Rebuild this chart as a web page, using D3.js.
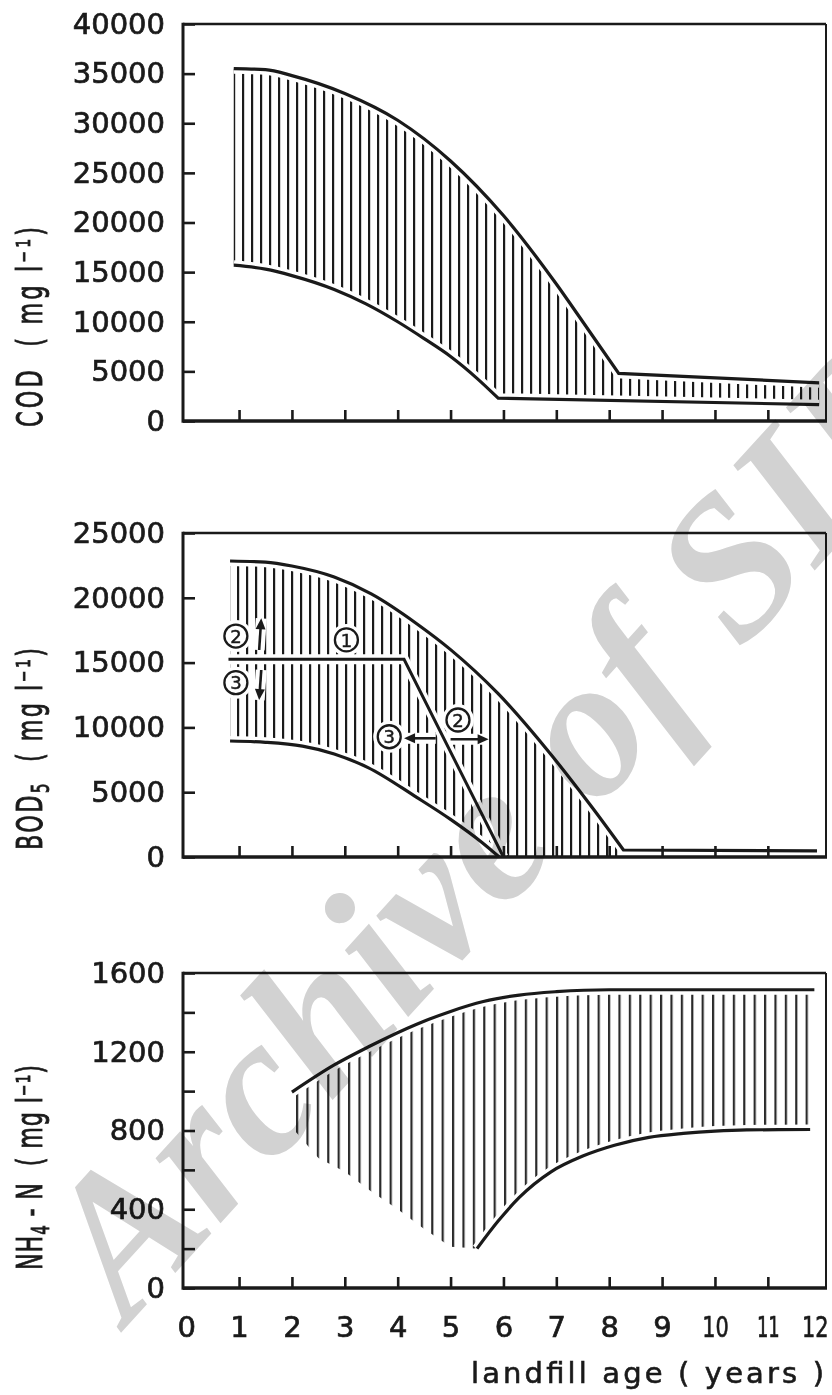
<!DOCTYPE html>
<html>
<head>
<meta charset="utf-8">
<script src="https://cdn.jsdelivr.net/npm/d3@7"></script>
<style>
  body { margin: 0; background: #fff; }
  svg { display: block; }
  text { font-family: 'DejaVu Sans', sans-serif; fill: #1a1a1a; white-space: pre; }
</style>
</head>
<body>
<svg id="chart" width="832" height="1395"></svg>
<script>
// landfill age (years)
const xLabels = [0, 1, 2, 3, 4, 5, 6, 7, 8, 9, 10, 11, 12]

// COD (mg/l)
const codTicks = [0, 5000, 10000, 15000, 20000, 25000, 30000, 35000, 40000]
const codUpper = [[0.9, 35500], [1.5, 35400], [2, 34800], [3, 33000], [4, 30300], [5, 26200],
  [6, 20700], [7, 13800], [7.5, 10000], [8.18, 4800]]
const codUpperTail = [[8.18, 4800], [11.97, 3850]]
const codLower = [[0.9, 15700], [1.5, 15300], [2, 14650], [2.8, 13250], [3.4, 11800], [4, 10000],
  [4.5, 8300], [5, 6500], [5.5, 4300], [5.9, 2300]]
const codLowerTail = [[5.9, 2300], [11.97, 1650]]

// BOD5 (mg/l)
const bodTicks = [0, 5000, 10000, 15000, 20000, 25000]
const bodUpper = [[0.83, 22840], [1.5, 22750], [2, 22450], [2.8, 21600], [3.5, 20300], [4.36, 18000],
  [5, 16000], [5.9, 12600], [6.86, 8100], [7.7, 3700], [8.27, 540]]
const bodUpperTail = [[8.27, 540], [11.93, 480]]
const bodLower = [[0.83, 8950], [1.5, 8850], [2.2, 8550], [2.8, 7950], [3.44, 6900], [4.36, 4600],
  [5, 2900], [5.6, 1100], [5.92, 0]]
const bodFloor = [[5.92, 0], [8.27, 0]]
const bodLine1 = [[0.8, 15250], [4.12, 15250], [6.0, 0]]
const bodCircleLabels = ['2', '1', '3', '3', '2']
const bodCircleAt = [[0.94, 17050], [3.03, 16750], [0.94, 13450], [3.84, 9280], [5.14, 10570]]
// arrows: from -> to (head at "to")
const bodArrows = [[[1.38, 15970], [1.42, 18420]], [[1.42, 14430], [1.38, 12110]],
  [[4.72, 9160], [4.12, 9160]], [[5.0, 9080], [5.72, 9080]]]

// NH4-N (mg/l)
const nh4Ticks = [0, 200, 400, 600, 800, 1000, 1200, 1400, 1600]
const nh4Upper = [[2.0, 995], [2.8, 1133], [3.44, 1224], [4.36, 1340], [5, 1405], [5.62, 1455],
  [6.3, 1488], [7, 1505], [8.0, 1515], [11.88, 1515]]
const nh4Lower = [[5.5, 200], [5.9, 340], [6.3, 460], [6.9, 590], [7.5, 670], [8.1, 725],
  [8.75, 765], [9.4, 785], [10, 797], [10.6, 803], [11.8, 805]]
// hatching stops here, no line drawn
const nh4HatchEdge = [[2.05, 800], [2.5, 660], [3, 590], [3.5, 490], [4, 400], [4.5, 300], [5, 210], [5.3, 205], [5.5, 200]]

const ink = '#1a1a1a'
const svg = d3.select('#chart')
const defs = svg.append('defs')

const xScale = d3.scaleLinear().domain([-0.06, 12.1]).range([183, 826])
const yCod = d3.scaleLinear().domain([0, 40000]).range([421, 24])
const yBod = d3.scaleLinear().domain([0, 25000]).range([857, 533])
const yNh4 = d3.scaleLinear().domain([0, 1600]).range([1288, 973])

const smooth = d3.curveMonotoneX
const straight = d3.curveLinear

function seg(y, pts, curve) {
  return d3.line().x(d => xScale(d[0])).y(d => y(d[1])).curve(curve)(pts)
}
function chain(parts) {
  return parts.map((p, i) => i ? p.replace(/^M/, 'L') : p).join('')
}
function rev(a) { return a.slice().reverse() }

function hatchPattern(id, step, x0, color) {
  const p = defs.append('pattern').attr('id', id).attr('patternUnits', 'userSpaceOnUse')
    .attr('x', x0).attr('y', 0).attr('width', step).attr('height', 10)
  p.append('rect').attr('x', 0).attr('y', 0).attr('width', 2.2).attr('height', 10).attr('fill', color)
}
hatchPattern('hCod', 9.0, 233, ink)
hatchPattern('hBod', 9.0, 228, ink)
hatchPattern('hNh4', 10.4, 296, '#2a2a2a')

const layer = svg.append('g')
const hatchG = layer.append('g')
const haloG = layer.append('g')
const lineG = layer.append('g')
const noteG = layer.append('g')
const axisG = layer.append('g')

function hatch(d, id) {
  hatchG.append('path').attr('d', d).attr('fill', `url(#${id})`)
}
function boundary(d, w) {
  haloG.append('path').attr('d', d).attr('fill', 'none').attr('stroke', '#fff').attr('stroke-width', 10)
  lineG.append('path').attr('d', d).attr('fill', 'none').attr('stroke', ink).attr('stroke-width', w || 3.2)
}

// ---- COD ----
hatch(chain([seg(yCod, codUpper, smooth), seg(yCod, codUpperTail, straight),
  seg(yCod, rev(codLowerTail), straight), seg(yCod, rev(codLower), smooth)]) + 'Z', 'hCod')
boundary(chain([seg(yCod, codUpper, smooth), seg(yCod, codUpperTail, straight)]))
boundary(chain([seg(yCod, codLower, smooth), seg(yCod, codLowerTail, straight)]))

// ---- BOD5 ----
hatch(chain([seg(yBod, bodUpper, smooth), seg(yBod, rev(bodFloor), straight),
  seg(yBod, rev(bodLower), smooth)]) + 'Z', 'hBod')
boundary(chain([seg(yBod, bodUpper, smooth), seg(yBod, bodUpperTail, straight)]))
boundary(seg(yBod, bodLower, smooth))
boundary(seg(yBod, bodLine1, straight), 3)

bodArrows.forEach(([a, b]) => {
  const x0 = xScale(a[0]), y0 = yBod(a[1]), x1 = xScale(b[0]), y1 = yBod(b[1])
  const ang = Math.atan2(y1 - y0, x1 - x0)
  haloG.append('line').attr('x1', x0).attr('y1', y0).attr('x2', x1).attr('y2', y1)
    .attr('stroke', '#fff').attr('stroke-width', 11)
  noteG.append('line').attr('x1', x0).attr('y1', y0)
    .attr('x2', x1 - 6 * Math.cos(ang)).attr('y2', y1 - 6 * Math.sin(ang))
    .attr('stroke', ink).attr('stroke-width', 2.6)
  const L = 11, W = 5
  const bx = x1 - L * Math.cos(ang), by = y1 - L * Math.sin(ang)
  const px = -Math.sin(ang) * W, py = Math.cos(ang) * W
  noteG.append('path').attr('d', `M${x1},${y1}L${bx + px},${by + py}L${bx - px},${by - py}Z`).attr('fill', ink)
})

bodCircleAt.forEach((c, i) => {
  const cx = xScale(c[0]), cy = yBod(c[1])
  haloG.append('circle').attr('cx', cx).attr('cy', cy).attr('r', 16).attr('fill', '#fff')
  noteG.append('circle').attr('cx', cx).attr('cy', cy).attr('r', 11.5)
    .attr('fill', '#fff').attr('stroke', ink).attr('stroke-width', 2.3)
  noteG.append('text').attr('x', cx).attr('y', cy).attr('dy', '0.37em').attr('text-anchor', 'middle')
    .attr('font-size', 18).attr('stroke', ink).attr('stroke-width', 0.5).text(bodCircleLabels[i])
})

// ---- NH4-N ----
hatch(chain([seg(yNh4, nh4Upper, smooth), seg(yNh4, rev(nh4Lower), smooth),
  seg(yNh4, rev(nh4HatchEdge), straight)]) + 'Z', 'hNh4')
boundary(seg(yNh4, nh4Upper, smooth))
boundary(seg(yNh4, nh4Lower, smooth))

// ---- frames and axes ----
const panels = [
  { y: yCod, ticks: codTicks, fmt: d => d, xText: false },
  { y: yBod, ticks: bodTicks, fmt: d => d, xText: false },
  { y: yNh4, ticks: nh4Ticks, fmt: d => d % 400 === 0 ? d : '', xText: true },
]
const [xl, xr] = xScale.range()
panels.forEach(p => {
  const [yb, yt] = p.y.range()
  const g = axisG.append('g')

  const ya = g.append('g').attr('transform', `translate(${xl},0)`)
    .call(d3.axisLeft(p.y).tickValues(p.ticks).tickSize(-12).tickPadding(18).tickFormat(p.fmt))
  ya.select('.domain').remove()
  ya.selectAll('.tick line').attr('stroke', ink).attr('stroke-width', 2.6)
  ya.selectAll('.tick text').attr('font-size', 29).attr('fill', ink)
    .attr('stroke', ink).attr('stroke-width', 0.7)

  const xa = g.append('g').attr('transform', `translate(0,${yb})`)
    .call(d3.axisBottom(xScale).tickValues(xLabels).tickSize(-11).tickPadding(28)
      .tickFormat(p.xText ? d => d : ''))
  xa.select('.domain').remove()
  xa.selectAll('.tick line').attr('stroke', ink).attr('stroke-width', 2.6)
    .attr('display', d => (d === 0 || d === 12) ? 'none' : null)
  xa.selectAll('.tick text').attr('font-size', 29).attr('fill', ink)
    .attr('stroke', ink).attr('stroke-width', 0.7)
    // two-digit labels are narrow in the original lettering
    .filter(d => d >= 10)
    .attr('transform', d => `translate(${d === 12 ? -6 : 0},0) scale(${d === 11 ? 0.62 : 0.72},1)`)

  g.append('line').attr('x1', xl).attr('x2', xr).attr('y1', yt).attr('y2', yt).attr('stroke', ink).attr('stroke-width', 2.4)
  g.append('line').attr('x1', xr).attr('x2', xr).attr('y1', yt).attr('y2', yb).attr('stroke', ink).attr('stroke-width', 2)
  g.append('line').attr('x1', xl).attr('x2', xl).attr('y1', yt - 1.2).attr('y2', yb + 1.7).attr('stroke', ink).attr('stroke-width', 3)
  g.append('line').attr('x1', xl).attr('x2', xr + 1).attr('y1', yb).attr('y2', yb).attr('stroke', ink).attr('stroke-width', 3.4)
})

// ---- axis titles ----
function yTitle(x, y, len, build) {
  const t = axisG.append('text')
    .attr('transform', `translate(${x},${y}) rotate(-90) scale(0.62,1)`)
    .attr('font-size', 36).attr('textLength', len / 0.62).attr('lengthAdjust', 'spacing')
    .attr('stroke', ink).attr('stroke-width', 0.9)
  build(t)
}
yTitle(42, 427, 200, t => { t.text('COD  ( mg l⁻¹)') })
yTitle(42, 850, 202, t => {
  t.append('tspan').text('BOD')
  t.append('tspan').attr('font-size', 24).attr('dy', 7).text('5')
  t.append('tspan').attr('dy', -7).text('  ( mg l⁻¹)')
})
yTitle(42, 1270, 205, t => {
  t.append('tspan').text('NH')
  t.append('tspan').attr('font-size', 24).attr('dy', 7).text('4')
  t.append('tspan').attr('dy', -7).text(' - N  ( mg l⁻¹)')
})

axisG.append('text').attr('x', 471).attr('y', 1383).attr('font-size', 29)
  .attr('stroke', ink).attr('stroke-width', 0.6)
  .attr('textLength', 353).attr('lengthAdjust', 'spacing').text('landfill age ( years )')

// ---- watermark ----
svg.append('text').text('Archive of SID')
  .attr('transform', 'translate(128,1325) rotate(-47.7)')
  .style('font-family', "'Liberation Serif', serif").style('font-style', 'italic').style('font-weight', 'bold')
  .style('font-size', '200px').style('fill', '#d2d2d2').style('mix-blend-mode', 'multiply')
</script>
</body>
</html>
